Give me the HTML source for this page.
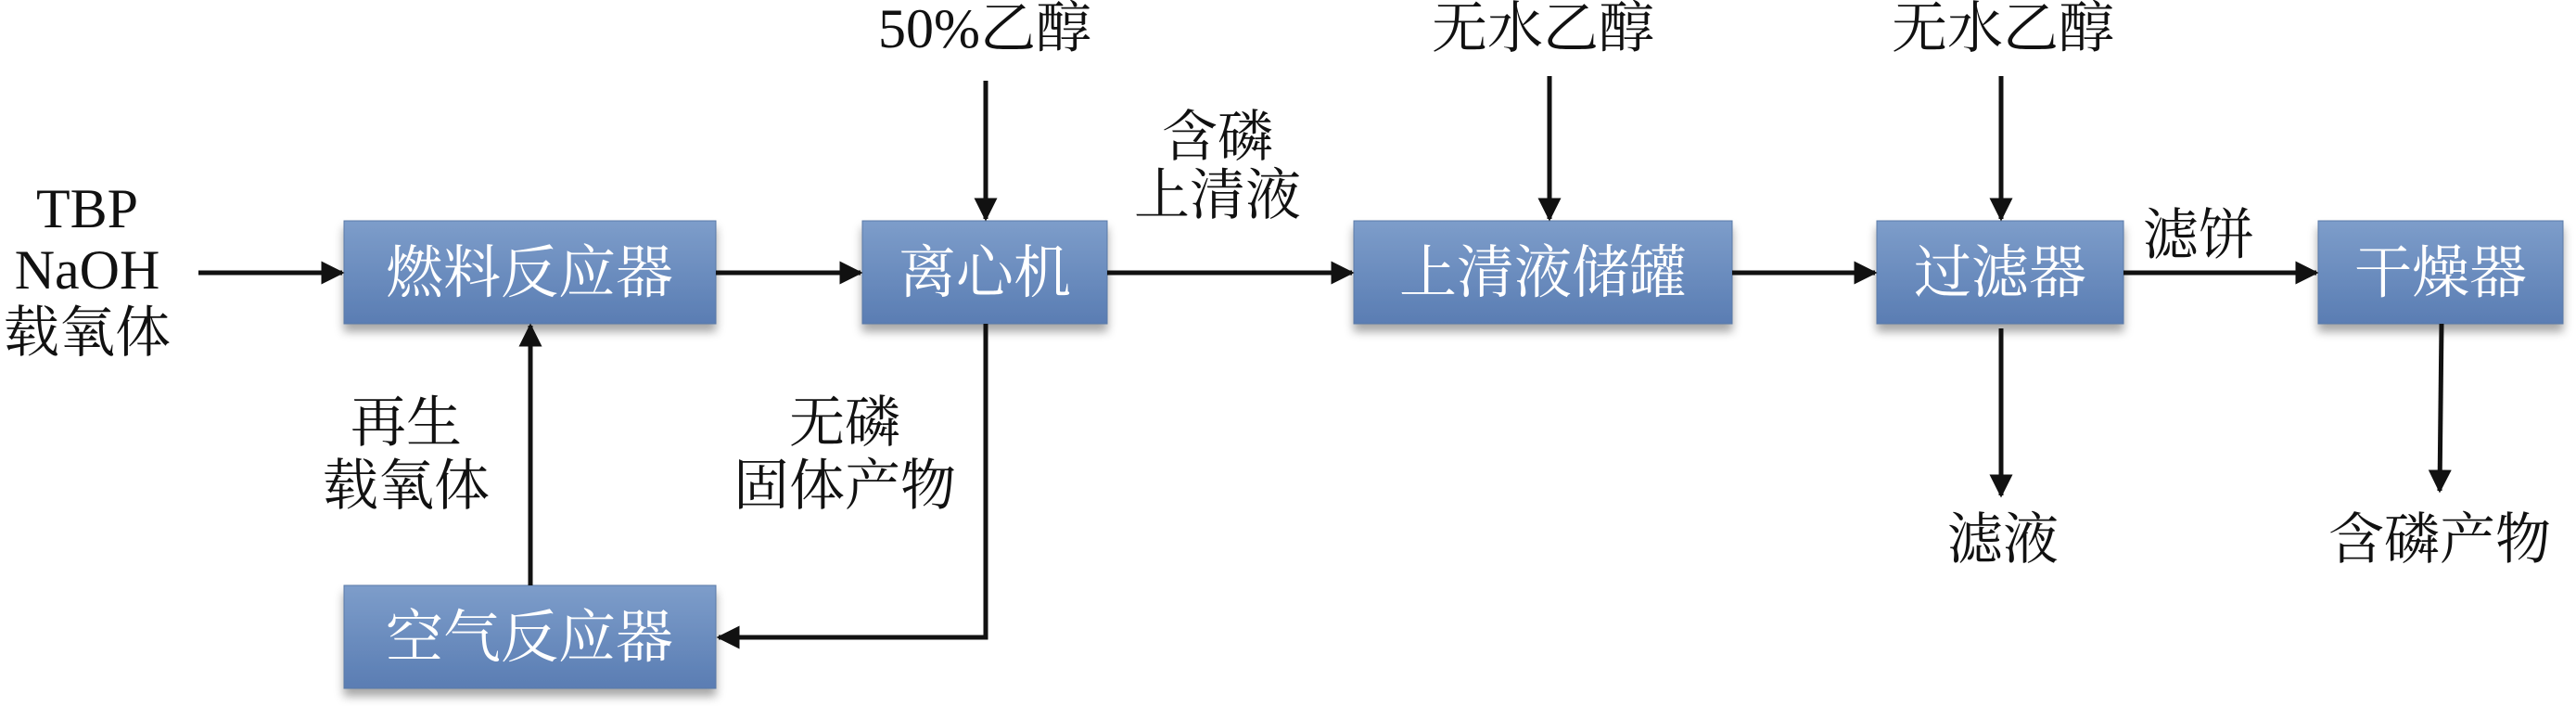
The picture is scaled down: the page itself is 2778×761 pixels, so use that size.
<!DOCTYPE html>
<html><head><meta charset="utf-8"><style>
html,body{margin:0;padding:0;background:#fff;}
svg{display:block;}
text{font-family:"Liberation Serif","Noto Serif CJK SC",serif;}
</style></head><body>
<svg width="2778" height="761" viewBox="0 0 2778 761" xmlns="http://www.w3.org/2000/svg">
<defs>
<linearGradient id="g" x1="0" y1="0" x2="0" y2="1">
<stop offset="0" stop-color="#7d9dca"/><stop offset="1" stop-color="#5a7db3"/>
</linearGradient>
<filter id="sh" x="-5%" y="-10%" width="110%" height="140%">
<feDropShadow dx="0" dy="8" stdDeviation="5" flood-color="#000" flood-opacity="0.35"/>
</filter>
<marker id="a" viewBox="0 0 10 10" refX="9" refY="5" markerWidth="5" markerHeight="5" markerUnits="strokeWidth" orient="auto">
<path d="M0,0 L10,5 L0,10 z" fill="#111"/>
</marker>
</defs>
<g fill="url(#g)" stroke="#5a7aa8" stroke-width="1" filter="url(#sh)">
<rect x="371" y="238" width="401" height="111"/>
<rect x="930" y="238" width="264" height="111"/>
<rect x="1460" y="238" width="408" height="111"/>
<rect x="2024" y="238" width="266" height="111"/>
<rect x="2500" y="238" width="264" height="111"/>
<rect x="371" y="631" width="401" height="111"/>
</g>
<g fill="#fff" font-size="62" text-anchor="middle">
<text x="571" y="315">燃料反应器</text>
<text x="1062" y="315">离心机</text>
<text x="1664" y="315">上清液储罐</text>
<text x="2157" y="315">过滤器</text>
<text x="2632" y="315">干燥器</text>
<text x="571" y="708">空气反应器</text>
</g>
<g stroke="#111" stroke-width="5" fill="none" marker-end="url(#a)">
<line x1="214" y1="294" x2="369" y2="294"/>
<line x1="772" y1="294" x2="928" y2="294"/>
<line x1="1194" y1="294" x2="1458" y2="294"/>
<line x1="1868" y1="294" x2="2022" y2="294"/>
<line x1="2290" y1="294" x2="2498" y2="294"/>
<line x1="1063" y1="87" x2="1063" y2="236"/>
<line x1="1671" y1="82" x2="1671" y2="236"/>
<line x1="2158" y1="82" x2="2158" y2="236"/>
<line x1="2158" y1="354" x2="2158" y2="534"/>
<line x1="2633" y1="349" x2="2631" y2="529"/>
<line x1="572" y1="631" x2="572" y2="351"/>
<polyline points="1063,349 1063,687 775,687"/>
</g>
<g fill="#111" font-size="60" text-anchor="middle">
<text x="94" y="245">TBP</text>
<text x="94" y="311">NaOH</text>
<text x="94" y="379">载氧体</text>
<text x="1062" y="51">50%乙醇</text>
<text x="1664" y="51">无水乙醇</text>
<text x="2160" y="51">无水乙醇</text>
<text x="1313" y="168">含磷</text>
<text x="1313" y="231">上清液</text>
<text x="2371" y="274">滤饼</text>
<text x="438" y="476">再生</text>
<text x="438" y="544">载氧体</text>
<text x="911" y="476">无磷</text>
<text x="911" y="544">固体产物</text>
<text x="2160" y="602">滤液</text>
<text x="2631" y="602">含磷产物</text>
</g>
</svg>
</body></html>
